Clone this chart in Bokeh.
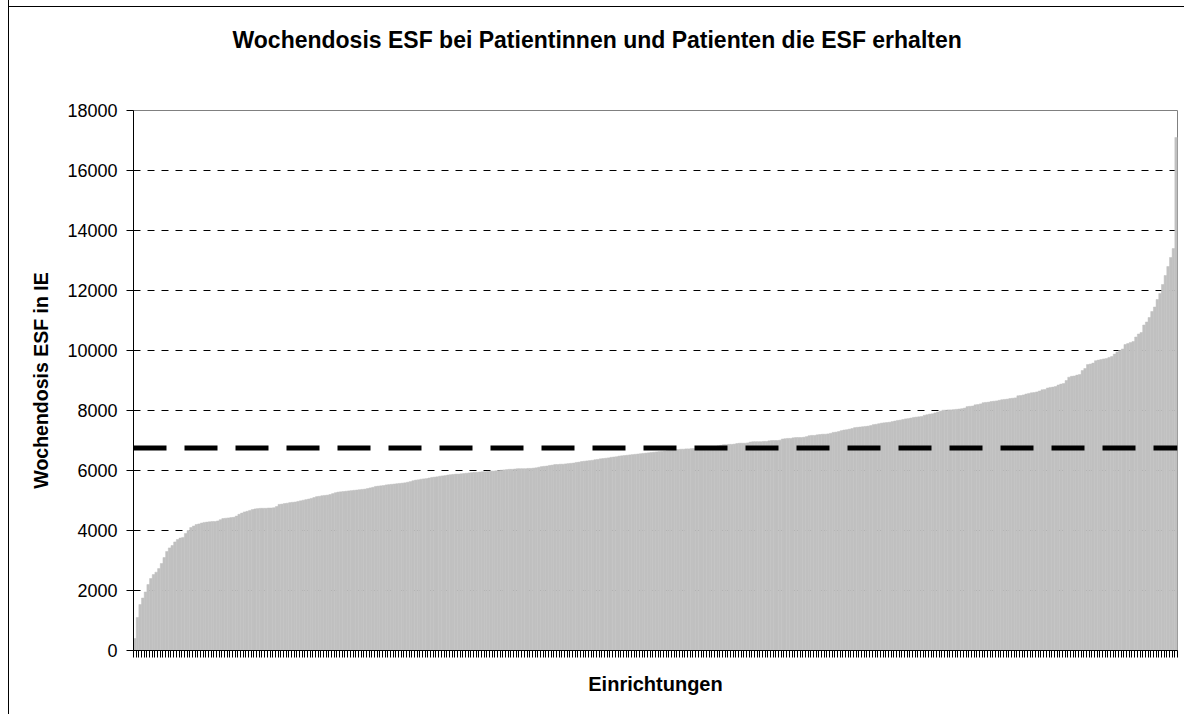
from bokeh.plotting import figure
from bokeh.models import FixedTicker, Span, ColumnDataSource, Range1d
from bokeh.embed import file_html
from bokeh.resources import INLINE

title_text = "Wochendosis ESF bei Patientinnen und Patienten die ESF erhalten"
x_label = "Einrichtungen"
y_label = "Wochendosis ESF in IE"
y_ticks = [0, 2000, 4000, 6000, 8000, 10000, 12000, 14000, 16000, 18000]

# weekly ESF dose per facility (sorted ascending)
doses = [
    400, 1100, 1530, 1750, 1950, 2200, 2400, 2530, 2610, 2730,
    2900, 3100, 3300, 3420, 3500, 3620, 3700, 3750, 3770, 3900,
    4000, 4100, 4150, 4200, 4220, 4250, 4270, 4280, 4290, 4300,
    4300, 4320, 4360, 4400, 4410, 4420, 4430, 4440, 4480, 4540,
    4580, 4620, 4640, 4670, 4700, 4720, 4730, 4740, 4740, 4740,
    4750, 4750, 4760, 4800, 4870, 4880, 4900, 4910, 4930, 4940,
    4950, 4970, 4990, 5010, 5030, 5050, 5070, 5100, 5130, 5140,
    5160, 5170, 5180, 5200, 5230, 5260, 5280, 5290, 5300, 5310,
    5320, 5330, 5340, 5350, 5360, 5370, 5380, 5400, 5420, 5440,
    5470, 5480, 5490, 5500, 5520, 5530, 5540, 5550, 5560, 5570,
    5580, 5590, 5610, 5630, 5660, 5680, 5690, 5710, 5720, 5730,
    5750, 5770, 5780, 5790, 5810, 5820, 5830, 5850, 5860, 5870,
    5880, 5880, 5890, 5900, 5910, 5920, 5930, 5940, 5940, 5950,
    5960, 5960, 5970, 5980, 5980, 5990, 6000, 6010, 6020, 6030,
    6040, 6040, 6050, 6060, 6060, 6060, 6060, 6070, 6070, 6080,
    6090, 6110, 6130, 6140, 6150, 6170, 6180, 6200, 6200, 6210,
    6210, 6220, 6230, 6240, 6250, 6270, 6280, 6300, 6310, 6320,
    6330, 6340, 6360, 6370, 6390, 6400, 6410, 6420, 6440, 6450,
    6460, 6480, 6490, 6500, 6510, 6520, 6530, 6540, 6550, 6560,
    6570, 6580, 6590, 6600, 6610, 6620, 6630, 6640, 6650, 6670,
    6680, 6690, 6700, 6700, 6710, 6710, 6720, 6720, 6730, 6730,
    6740, 6740, 6750, 6760, 6770, 6780, 6790, 6800, 6820, 6840,
    6860, 6860, 6870, 6870, 6880, 6900, 6910, 6910, 6910, 6920,
    6950, 6960, 6960, 6960, 6960, 6970, 6970, 6990, 7000, 7000,
    7000, 7010, 7050, 7060, 7070, 7070, 7090, 7100, 7100, 7100,
    7110, 7130, 7160, 7170, 7170, 7190, 7200, 7210, 7210, 7220,
    7240, 7270, 7280, 7300, 7330, 7350, 7360, 7380, 7400, 7430,
    7440, 7450, 7460, 7470, 7480, 7500, 7530, 7540, 7560, 7580,
    7590, 7600, 7610, 7630, 7650, 7670, 7680, 7700, 7720, 7730,
    7750, 7770, 7780, 7790, 7800, 7840, 7860, 7880, 7890, 7920,
    7950, 7980, 8010, 8010, 8020, 8020, 8030, 8040, 8050, 8060,
    8080, 8130, 8140, 8150, 8190, 8200, 8220, 8260, 8270, 8280,
    8300, 8310, 8320, 8340, 8360, 8370, 8380, 8400, 8410, 8420,
    8490, 8500, 8520, 8550, 8570, 8590, 8600, 8620, 8650, 8690,
    8700, 8750, 8770, 8780, 8800, 8850, 8880, 8900, 9000, 9110,
    9140, 9150, 9180, 9200, 9330, 9400, 9530, 9550, 9580, 9660,
    9680, 9700, 9720, 9730, 9770, 9800, 9880, 9950, 10000, 10050,
    10200, 10230, 10270, 10300, 10450, 10550, 10600, 10850, 10950, 11100,
    11300, 11450, 11700, 11900, 12200, 12500, 12800, 13100, 13400, 17100,
]
mean_dose = 6750

n = len(doses)
facility = list(range(n))
src = ColumnDataSource(dict(x=[i + 0.5 for i in facility], dose=doses))

FONT = "Liberation Sans"

p = figure(
    width=1176, height=749,
    x_range=Range1d(0, n), y_range=Range1d(y_ticks[0], y_ticks[-1]),
    output_backend="svg", toolbar_location=None,
    min_border_left=124, min_border_right=8, min_border_top=145, min_border_bottom=64,
    background_fill_color="white", border_fill_color="white", border_fill_alpha=0,
    styles={"margin-left": "8px", "margin-top": "-35px",
            "border-left": "1px solid #000000",
            "background-color": "#ffffff",
            "background-image": "linear-gradient(#000000, #000000)",
            "background-position": "0px 41px",
            "background-size": "100% 1px",
            "background-repeat": "no-repeat"},
)

p.vbar(x="x", top="dose", bottom=0, width=1.0, source=src,
       fill_color="#C0C0C0", line_color="#C0C0C0", line_width=0.5)

p.add_layout(Span(location=mean_dose, dimension="width", line_color="black",
                  line_width=5, line_dash="33 18"))

# title
p.title.text = title_text
p.title.align = "left"
p.title.offset = 99
p.title.standoff = 116
p.title.text_font = FONT
p.title.text_font_size = "23px"
p.title.text_font_style = "bold"
p.title.text_color = "black"

p.outline_line_color = "#808080"
p.outline_line_width = 1

# y axis
p.yaxis.ticker = FixedTicker(ticks=y_ticks)
p.yaxis.axis_label = y_label
p.yaxis.axis_label_text_font = FONT
p.yaxis.axis_label_text_font_size = "19.5px"
p.yaxis.axis_label_text_font_style = "bold"
p.yaxis.axis_label_text_color = "black"
p.yaxis.axis_label_standoff = 12
p.yaxis.major_label_text_font = FONT
p.yaxis.major_label_text_font_size = "18px"
p.yaxis.major_label_text_color = "black"
p.yaxis.major_label_standoff = 9
p.yaxis.major_tick_out = 7
p.yaxis.major_tick_in = 0
p.yaxis.minor_tick_line_color = None
p.yaxis.axis_line_color = "black"
p.yaxis.major_tick_line_color = "black"

# x axis: one (unlabelled) tick per facility boundary
p.xaxis.ticker = FixedTicker(ticks=[], minor_ticks=list(range(n + 1)))
p.xaxis.major_label_standoff = 0
p.xaxis.axis_label = x_label
p.xaxis.axis_label_text_font = FONT
p.xaxis.axis_label_text_font_size = "20px"
p.xaxis.axis_label_text_font_style = "bold"
p.xaxis.axis_label_text_color = "black"
p.xaxis.axis_label_standoff = 15
p.xaxis.minor_tick_out = 7
p.xaxis.minor_tick_in = 0
p.xaxis.minor_tick_line_color = "black"
p.xaxis.axis_line_color = "black"

# grid
p.xgrid.grid_line_color = None
p.ygrid.ticker = FixedTicker(ticks=y_ticks[1:-1])
p.ygrid.grid_line_color = "black"
p.ygrid.grid_line_dash = "7 7"
p.ygrid.grid_line_width = 1

open("out.html", "w").write(file_html(p, INLINE))
